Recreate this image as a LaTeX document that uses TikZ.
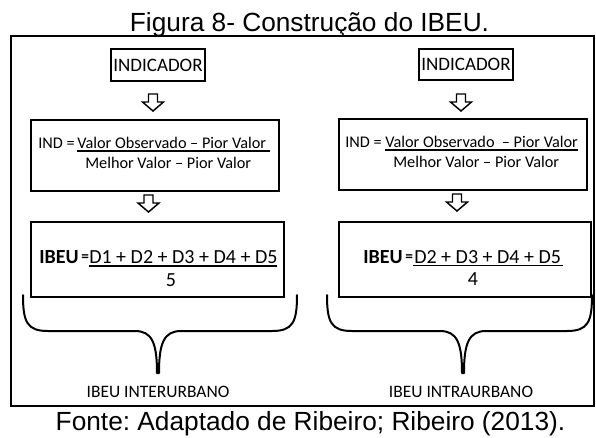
\documentclass[tikz,border=0pt]{standalone}
\usepackage{fontspec}
\setmainfont{Carlito}
\newfontfamily\arialf{Liberation Sans}
\frenchspacing
\begin{document}
\begin{tikzpicture}[x=0.75pt,y=-0.75pt,
  box/.style={draw, line width=1.5pt, inner sep=0pt},
  indbox/.style={box, line width=1.9pt, minimum width=70.5pt, minimum height=24pt, font=\fontsize{14.25}{16}\selectfont},
  fbox/.style={box, minimum width=186pt, minimum height=53.25pt},
  gbox/.style={box, minimum width=189.5pt, minimum height=56.25pt},
  txt/.style={inner sep=0pt, anchor=base west},
  indtxt/.style={txt, font=\fontsize{12.2}{14}\selectfont},
  ibeutxt/.style={txt, font=\fontsize{15}{18}\selectfont},
  eqtxt/.style={txt, font=\bfseries\fontsize{11.5}{14}\selectfont},
  capt/.style={inner sep=0pt, anchor=base, font=\arialf\fontsize{19.7}{23}\selectfont},
  lbl/.style={inner sep=0pt, anchor=base, font=\fontsize{13.1}{15}\selectfont},
  fracline/.style={line width=0.8pt},
  brace/.style={line width=1.5pt, line cap=round, line join=round},
  darrow/.pic={\draw[line width=1.1pt, fill=white, line join=miter] (-4.5,0) -- (4.5,0) -- (4.5,8) -- (10.5,8) -- (0,17) -- (-10.5,8) -- (-4.5,8) -- cycle;}
]
\useasboundingbox (0,0) rectangle (596,437);

% caption
\node[capt] (title) at (309.5,31) {Figura 8- Construção do IBEU.};
\node[capt] (source) at (310.5,430) {Fonte: Adaptado de Ribeiro; Ribeiro (2013).};

% frame
\node[box, minimum width=437.6pt, minimum height=277.5pt] (frame) at (302.75,221) {};

% INDICADOR boxes
\node[indbox] (ind1) at (158,65) {INDICADOR};
\node[indbox, minimum height=23.25pt] (ind2) at (466,64.5) {INDICADOR};

% arrows
\pic (a1) at (153,94) {darrow};
\pic (a2) at (461,94) {darrow};
\pic (a3) at (148.5,195) {darrow};
\pic (a4) at (457,194) {darrow};

% formula boxes IND
\node[fbox] (f1) at (155,155.5) {};
\node[fbox] (f2) at (463,154.5) {};

\node[indtxt] (f1eq) at (38,148) {IND =};
\node[indtxt] (f1num) at (77,148) {Valor Observado – Pior Valor};
\node[indtxt] (f1den) at (85,168) {Melhor Valor – Pior Valor};
\coordinate (f1la) at (77,151);
\coordinate (f1lb) at (270,151);
\draw[fracline] (f1la) -- (f1lb);

\node[indtxt] (f2eq) at (345,147.5) {IND =};
\node[indtxt] (f2num) at (385,147.5) {Valor Observado \ – Pior Valor};
\node[indtxt] (f2den) at (393,167) {Melhor Valor – Pior Valor};
\coordinate (f2la) at (385,150);
\coordinate (f2lb) at (578,150);
\draw[fracline] (f2la) -- (f2lb);

% IBEU boxes
\node[gbox] (g1) at (157.5,259.5) {};
\node[gbox, minimum width=189pt] (g2) at (465,259.5) {};

\node[ibeutxt] (g1ibeu) at (39,263) {\textbf{IBEU}};
\node[eqtxt] (g1eq) at (81,261) {=};
\node[ibeutxt] (g1num) at (89,263) {D1 + D2 + D3 + D4 + D5};
\coordinate (g1la) at (89,266);
\coordinate (g1lb) at (277,266);
\draw[fracline] (g1la) -- (g1lb);
\node[ibeutxt, anchor=base] (g1den) at (171,286.5) {5};

\node[ibeutxt] (g2ibeu) at (363,263) {\textbf{IBEU}};
\node[eqtxt] (g2eq) at (405,261) {=};
\node[ibeutxt] (g2num) at (414,263) {D2 + D3 + D4 + D5};
\coordinate (g2la) at (413,265.5);
\coordinate (g2lb) at (563,265.5);
\draw[fracline] (g2la) -- (g2lb);
\node[ibeutxt, anchor=base] (g2den) at (473,285) {4};

% braces
\draw[brace] (23,295) .. controls (23,322) and (27,331) .. (48,331) -- (135,331)
  .. controls (152,331) and (157,343) .. (157,373) -- (159,373)
  .. controls (159,343) and (164,331) .. (181,331) -- (272,331)
  .. controls (293,331) and (297,322) .. (297,295);
\draw[brace] (327,295) .. controls (327,322) and (331,331) .. (352,331) -- (440,331)
  .. controls (457,331) and (462,343) .. (462,373) -- (464,373)
  .. controls (464,343) and (469,331) .. (486,331) -- (567,331)
  .. controls (588,331) and (592,322) .. (592,295);

% labels
\node[lbl] (l1) at (158,397) {IBEU INTERURBANO};
\node[lbl] (l2) at (461,397) {IBEU INTRAURBANO};
\end{tikzpicture}
\end{document}
